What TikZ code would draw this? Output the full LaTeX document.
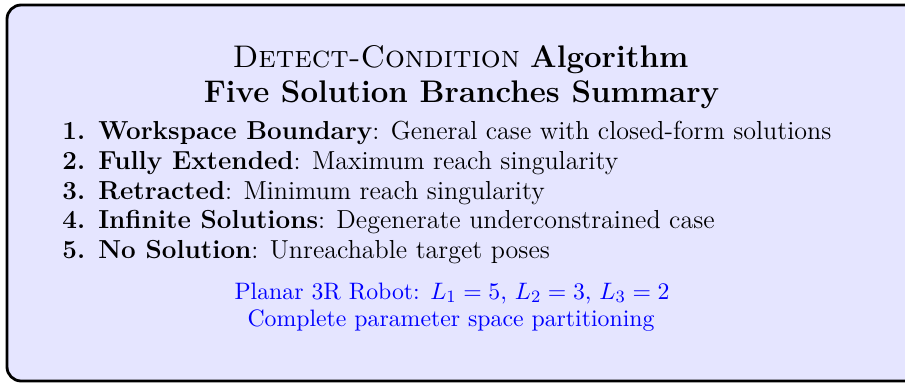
\documentclass[tikz,border=0pt]{standalone}
\usepackage{xcolor}
\tikzset{
  panel/.style={draw=black, line width=1.3pt, rounded corners=6.5pt, fill=blue!10},
  titletext/.style={anchor=base, inner sep=0pt, font=\fontsize{14.4}{18}\selectfont},
  itemtext/.style={anchor=base west, inner sep=0pt, font=\fontsize{12}{14}\selectfont},
  notetext/.style={anchor=base, inner sep=0pt, text=blue, font=\fontsize{10.95}{13.6}\selectfont},
}
\begin{document}
\begin{tikzpicture}[x=0.4608pt,y=-0.4608pt]
\useasboundingbox (0,0) rectangle (905,382);
\path[panel] (7,5) rectangle (935,381);
\node[titletext] (t1) at (460.5,67) {\textsc{Detect-Condition} \textbf{Algorithm}};
\node[titletext] (t2) at (461.5,102) {\textbf{Five Solution Branches Summary}};
\node[itemtext] (i1) at (62,139) {\textbf{1. Workspace Boundary}: General case with closed-form solutions};
\node[itemtext] (i2) at (62,169) {\textbf{2. Fully Extended}: Maximum reach singularity};
\node[itemtext] (i3) at (62,199) {\textbf{3. Retracted}: Minimum reach singularity};
\node[itemtext] (i4) at (62,228) {\textbf{4. Infinite Solutions}: Degenerate underconstrained case};
\node[itemtext] (i5) at (62,258) {\textbf{5. No Solution}: Unreachable target poses};
\node[notetext] (n1) at (452,299) {Planar 3R Robot: $L_1 = 5$, $L_2 = 3$, $L_3 = 2$};
\node[notetext] (n2) at (451,326) {Complete parameter space partitioning};
\end{tikzpicture}
\end{document}
